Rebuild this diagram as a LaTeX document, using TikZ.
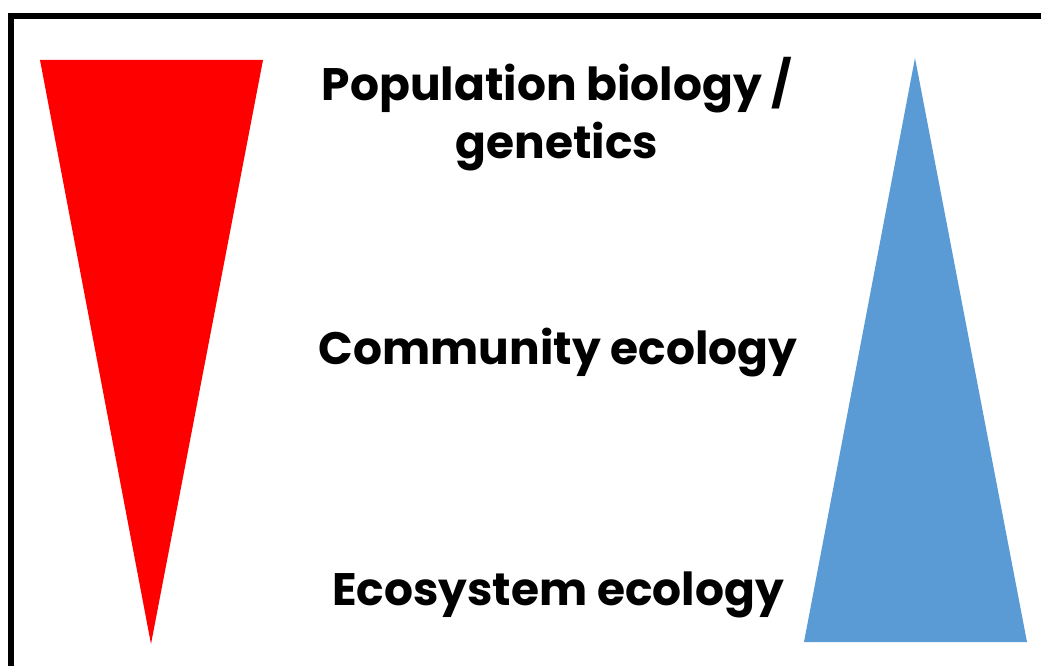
\documentclass[tikz,border=0pt]{standalone}
\usepackage{fontspec}
\setmainfont{Poppins}
\definecolor{redtri}{RGB}{255,0,0}
\definecolor{bluetri}{RGB}{91,155,213}
\begin{document}
\begin{tikzpicture}[x=1pt,y=-1pt,
  lbl/.style={font=\fontsize{45.5}{58}\selectfont\bfseries, align=center, inner sep=0pt, anchor=base},
  frame/.style={line width=6pt, draw=black}]
\useasboundingbox (0,0) rectangle (1041,666);
\draw[frame] (11,700) -- (11,16) -- (1080,16);
\fill[redtri] (40,60) -- (263,60) -- (151,644) -- cycle;
\fill[bluetri] (915,58) -- (1027,642) -- (804,642) -- cycle;
\node[lbl] (pop) at (557,101) {Population biology /};
\node[lbl] (gen) at (557,158) {genetics};
\node[lbl] (com) at (558,364) {Community ecology};
\node[lbl] (eco) at (558,605) {Ecosystem ecology};
\end{tikzpicture}
\end{document}
